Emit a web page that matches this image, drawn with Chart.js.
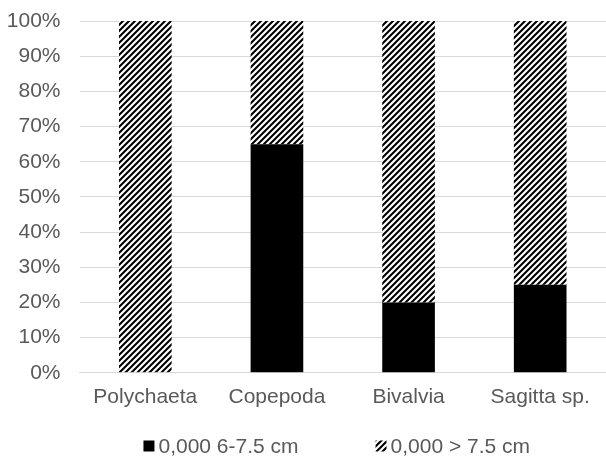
<!DOCTYPE html>
<html>
<head>
<meta charset="utf-8">
<script src="https://cdn.jsdelivr.net/npm/chart.js@4.4.1/dist/chart.umd.min.js"></script>
<style>
  html, body { margin: 0; padding: 0; background: #fff; }
  #wrap { width: 606px; height: 457px; }
</style>
</head>
<body>
<div id="wrap"><canvas id="chart" width="606" height="457"></canvas></div>
<script>
const categories = ['Polychaeta', 'Copepoda', 'Bivalvia', 'Sagitta sp.'];
const seriesNames = ['0,000 6-7.5 cm', '0,000 > 7.5 cm'];
const small = [0, 65, 20, 25];     // 6-7.5 cm, percent
const large = [100, 35, 80, 75];   // > 7.5 cm, percent
const yTicks = [0, 10, 20, 30, 40, 50, 60, 70, 80, 90, 100];

const TEXT = '#595959';
const GRID = '#d9d9d9';
const FONT = 'Liberation Sans, Arial, sans-serif';

// diagonal hatch like excel "wide upward diagonal"
function hatch(){
  const c = document.createElement('canvas');
  c.width = 6; c.height = 6;
  const g = c.getContext('2d');
  g.fillStyle = '#fff';
  g.fillRect(0, 0, 6, 6);
  g.strokeStyle = '#000';
  g.lineWidth = 2.1;
  g.beginPath();
  g.moveTo(-1, 7); g.lineTo(7, -1);
  g.moveTo(-4, 4); g.lineTo(4, -4);
  g.moveTo(2, 10); g.lineTo(10, 2);
  g.stroke();
  return g.createPattern(c, 'repeat');
}
const hatchFill = hatch();

// legend drawn under the plot, items centred a bit left of the plot centre
const bottomLegend = {
  id: 'bottomLegend',
  afterDraw(chart){
    const ctx = chart.ctx;
    const area = chart.chartArea;
    ctx.save();
    ctx.font = '21px ' + FONT;
    ctx.textBaseline = 'middle';
    const box = 11, gapText = 4, gapItem = 77;
    const items = chart.data.datasets.map(d => ({ text: d.label, fill: d.backgroundColor, w: box + gapText + ctx.measureText(d.label).width }));
    const total = items.reduce((s, it) => s + it.w, 0) + gapItem * (items.length - 1);
    let x = (area.left + area.right) / 2 - 6 - total / 2;
    const y = 446;
    items.forEach(it => {
      ctx.fillStyle = it.fill;
      ctx.fillRect(x, y - box / 2, box, box);
      ctx.fillStyle = TEXT;
      ctx.fillText(it.text, x + box + gapText, y + 1);
      x += it.w + gapItem;
    });
    ctx.restore();
  }
};

new Chart(document.getElementById('chart'), {
  type: 'bar',
  data: {
    labels: categories,
    datasets: [
      { label: seriesNames[0], data: small, backgroundColor: '#000', barPercentage: 0.4, categoryPercentage: 1 },
      { label: seriesNames[1], data: large, backgroundColor: hatchFill, barPercentage: 0.4, categoryPercentage: 1 }
    ]
  },
  options: {
    responsive: false,
    animation: false,
    layout: { padding: { left: 0, right: 0, top: 21, bottom: 43 } },
    plugins: { legend: { display: false }, tooltip: { enabled: false } },
    scales: {
      x: {
        stacked: true,
        grid: { display: false },
        border: { display: true, color: GRID, width: 1 },
        ticks: { color: TEXT, font: { family: FONT, size: 21 }, padding: 4, maxRotation: 0 },
        afterFit: s => { s.paddingLeft = 0; s.paddingRight = 0; }
      },
      y: {
        stacked: true,
        min: 0, max: 100,
        afterBuildTicks: s => { s.ticks = yTicks.map(v => ({ value: v })); },
        grid: { color: GRID, lineWidth: 1, drawTicks: false },
        border: { display: false },
        ticks: { color: TEXT, font: { family: FONT, size: 21 }, padding: 19, callback: v => v + '%' },
        afterFit: s => { s.paddingTop = 0; s.paddingBottom = 0; s.width = 79.5; }
      }
    }
  },
  plugins: [bottomLegend]
});
</script>
</body>
</html>
